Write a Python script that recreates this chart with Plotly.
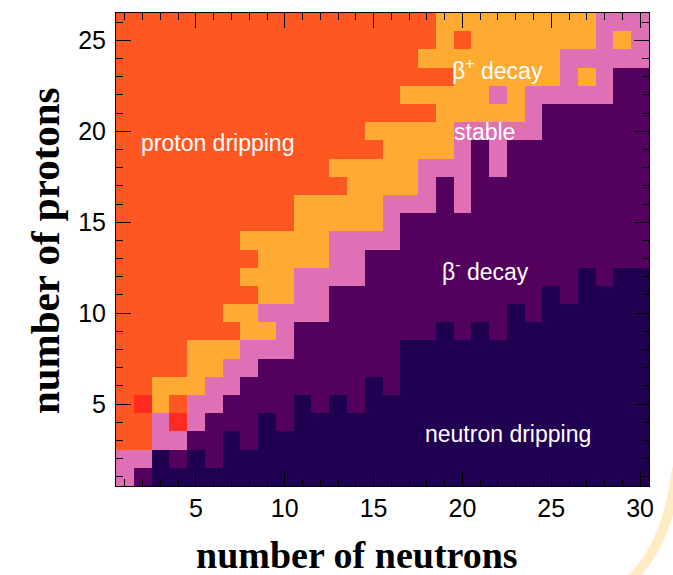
import plotly.graph_objects as go

# ---- data ----
neutrons = list(range(1, 31))
protons = list(range(1, 27))

# category code per cell, one character per neutron number (1..30),
# rows listed from Z=26 (top) down to Z=1 (bottom); spaces only group by 5
# P = proton dripping, B = beta+ decay, S = stable, M = beta- decay,
# N = neutron dripping, R = other (red cells)
grid_rows = [
    "PPPPP PPPPP PPPPP PPPBB BBBBB BBSSS",  # 26
    "PPPPP PPPPP PPPPP PPPBP BBBBB BBSBS",  # 25
    "PPPPP PPPPP PPPPP PPBBB BBBBB SSSSS",  # 24
    "PPPPP PPPPP PPPPP PPPPB BBBBB SBSMM",  # 23
    "PPPPP PPPPP PPPPP PBBBB BSBSS SSSMM",  # 22
    "PPPPP PPPPP PPPPP PPPBB BBBSM MMMMM",  # 21
    "PPPPP PPPPP PPPPB BBBBS SSSSM MMMMM",  # 20
    "PPPPP PPPPP PPPPP BBBBS MSMMM MMMMM",  # 19
    "PPPPP PPPPP PPBBB BBSSS MSMMM MMMMM",  # 18
    "PPPPP PPPPP PPPBB BBSMS MMMMM MMMMM",  # 17
    "PPPPP PPPPP BBBBB SSSMS MMMMM MMMMM",  # 16
    "PPPPP PPPPP BBBBB SMMMM MMMMM MMMMM",  # 15
    "PPPPP PPBBB BBSSS SMMMM MMMMM MMMMM",  # 14
    "PPPPP PPPBB BBSSM MMMMM MMMMM MMMMM",  # 13
    "PPPPP PPBBB SSSSM MMMMM MMMMM MNMNN",  # 12
    "PPPPP PPPBB SSMMM MMMMM MMMMN MNNNN",  # 11
    "PPPPP PBBSS SSMMM MMMMM MMNMN NNNNN",  # 10
    "PPPPP PPBBS MMMMM MMMNM NMNNN NNNNN",  # 9
    "PPPPB BBSSS MMMMM MNNNN NNNNN NNNNN",  # 8
    "PPPPB BSSMM MMMMM MNNNN NNNNN NNNNN",  # 7
    "PPBBB SSMMM MMMMN MNNNN NNNNN NNNNN",  # 6
    "PRBPS SMMMM NMNMN NNNNN NNNNN NNNNN",  # 5
    "PPSRS MMMNM NNNNN NNNNN NNNNN NNNNN",  # 4
    "PPSSM MNMNN NNNNN NNNNN NNNNN NNNNN",  # 3
    "SSNMN MNNNN NNNNN NNNNN NNNNN NNNNN",  # 2
    "SMNNN NNNNN NNNNN NNNNN NNNNN NNNNN",  # 1
]

category_codes = ["N", "M", "S", "B", "P", "R"]
category_colors = ["#200050", "#54005f", "#e070b6", "#ffaa33", "#ff5722", "#ff2a20"]

label_texts = ["proton dripping", "β<sup>+</sup> decay", "stable",
               "β<sup>-</sup> decay", "neutron dripping"]
label_x = [6.2, 22.0, 21.25, 21.3, 22.55]
label_y = [19.36, 23.4, 19.96, 12.38, 3.37]

x_ticks = [5, 10, 15, 20, 25, 30]
y_ticks = [5, 10, 15, 20, 25]

# ---- build matrix ----
code_index = {c: i for i, c in enumerate(category_codes)}
z = []
for row in reversed(grid_rows):          # bottom (Z=1) first
    cells = row.replace(" ", "")
    z.append([code_index[c] for c in cells])

n_cat = len(category_codes)
colorscale = []
for i, col in enumerate(category_colors):
    colorscale.append([i / n_cat, col])
    colorscale.append([(i + 1) / n_cat, col])

fig = go.Figure()
fig.add_trace(go.Heatmap(
    x=neutrons, y=protons, z=z,
    zmin=-0.5, zmax=n_cat - 0.5,
    colorscale=colorscale, showscale=False,
    hoverinfo="skip",
))

L, R, T, B = 116, 24, 13, 89
W, H = 673, 575
pw, ph = W - L - R, H - T - B

def px_to_paper(px, py):
    return (px - L) / pw, 1 - (py - T) / ph

axis_common = dict(
    ticks="inside", ticklen=15, tickwidth=1, tickcolor="black",
    showline=True, linecolor="black", linewidth=1, mirror="ticks",
    showgrid=False, zeroline=False,
    tickfont=dict(family="Liberation Sans, Arial, sans-serif", size=25, color="black"),
    minor=dict(dtick=1, ticks="inside", ticklen=7, tickcolor="black", showgrid=False),
)

fig.update_xaxes(range=[0.5, 30.5], tickvals=x_ticks, **axis_common)
fig.update_yaxes(range=[0.5, 26.5], tickvals=y_ticks, ticklabelstandoff=4, **axis_common)

for t, x, y in zip(label_texts, label_x, label_y):
    fig.add_annotation(x=x, y=y, xref="x", yref="y", text=t, showarrow=False,
                       font=dict(family="Liberation Sans, Arial, sans-serif", size=23, color="white"))

title_font = dict(family="Liberation Serif, Times New Roman, serif", size=38, color="black")
tx, ty = px_to_paper(357, 555)
fig.add_annotation(x=tx, y=ty, xref="paper", yref="paper", text="<b>number of neutrons</b>",
                   showarrow=False, xanchor="center", yanchor="middle", font=title_font)
tx, ty = px_to_paper(45, 251)
fig.add_annotation(x=tx, y=ty, xref="paper", yref="paper", text="<b>number of protons</b>",
                   showarrow=False, xanchor="center", yanchor="middle", textangle=-90,
                   font=dict(title_font, size=41))

# faint decorative arc in the lower-right corner
x0, y0 = px_to_paper(677, 468)
xc, yc = px_to_paper(668, 545)
x1, y1 = px_to_paper(630, 580)
fig.add_shape(type="path", xref="paper", yref="paper", layer="below",
              path=f"M {x0},{y0} Q {xc},{yc} {x1},{y1}",
              line=dict(color="#ffecc4", width=10))

fig.update_layout(
    width=W, height=H,
    margin=dict(l=L, r=R, t=T, b=B, pad=0),
    paper_bgcolor="white", plot_bgcolor="white",
    showlegend=False,
)

fig.write_html("out.html")
